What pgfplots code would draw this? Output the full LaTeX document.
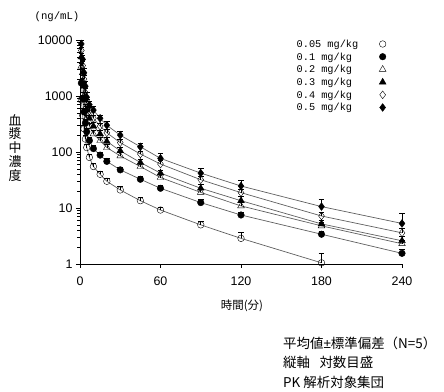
\documentclass[border=0pt]{standalone}
\usepackage{fontspec}
\setmainfont{Liberation Sans}
\newfontfamily\jp{Noto Sans CJK JP}
\newfontfamily\mono{Liberation Mono}
\usepackage{pgfplots}
\usepackage{pgfplotstable}
\pgfplotsset{compat=1.18}
\definecolor{lg}{RGB}{95,95,95}

\pgfplotstableread{
t v e
1 850 150
2 450 80
3 260 40
4 170 25
5 120 18
7 80 12
10 55 8
15 40 6
20 30 4
30 21 3
45 13.5 2
60 9.2 1.3
90 5.0 0.7
120 2.87 0.75
180 1.05 0.5
}\dA
\pgfplotstableread{
t v e
1 1700 300
2 900 150
3 520 80
4 330 50
5 230 35
7 160 22
10 115 15
15 88 12
20 68 9
30 48 6
45 32.6 4
60 22.5 3
90 12.5 1.8
120 7.5 1
180 3.4 0.5
240 1.55 0.25
}\dB
\pgfplotstableread{
t v e
1 3400 500
2 1800 300
3 1000 170
4 600 100
5 400 60
7 290 40
10 210 30
15 160 22
20 120 16
30 85 12
45 55 8
60 35 5
90 19 3
120 10.9 1.8
180 4.8 0.8
240 2.3 0.4
}\dC
\pgfplotstableread{
t v e
1 5000 800
2 2600 450
3 1500 250
4 850 150
5 560 90
7 400 60
10 290 45
15 210 30
20 155 25
30 105 15
45 65 9
60 42 6
90 22.5 3.5
120 13.5 2.5
180 5.2 0.9
240 2.6 0.5
}\dD
\pgfplotstableread{
t v e
1 6500 1000
2 3500 600
3 2000 350
4 1150 200
5 750 120
7 540 80
10 400 60
15 290 40
20 220 30
30 147 20
45 92 12
60 61 9
90 32 5
120 18.8 3
180 7.2 1.2
240 3.6 0.8
}\dE
\pgfplotstableread{
t v e
1 8500 1500
2 4500 800
3 2600 500
4 1500 300
5 950 200
7 700 120
10 560 90
15 400 60
20 300 50
30 200 35
45 124 18
60 77 18
90 42 9
120 24.7 7
180 10.6 3.8
240 5.3 2.7
}\dF

\pgfplotsset{
  mk/.style={only marks, mark size=3.3bp, mark options={draw=black, line width=0.6bp},
    error bars/y dir=plus, error bars/y explicit,
    error bars/error bar style={black, line width=0.6bp},
    error bars/error mark options={rotate=90, mark size=2.8bp, black, line width=0.6bp}},
  ln/.style={forget plot, mark=none, color=lg, line width=0.7bp},
}

\begin{document}
\begin{tikzpicture}
\useasboundingbox (-80bp,-128bp) rectangle (364bp,264bp);
\begin{axis}[
  at={(0,0)}, anchor=south west,
  scale only axis, width=322bp, height=224bp,
  xmin=0, xmax=240, ymin=1, ymax=10000, ymode=log,
  axis x line*=bottom, axis y line*=left,
  xtick={0,60,120,180,240},
  ytick={1,10,100,1000,10000}, yticklabels={1,10,100,1000,10000},
  tick align=outside, major tick length=4bp, minor tick length=2.5bp,
  tick style={black, line width=0.6bp},
  axis line style={black, line width=0.8bp},
  ticklabel style={font=\fontsize{12.5}{14}\selectfont},
  xticklabel style={yshift=-5bp},
  /pgf/number format/assume math mode=true,
  clip=false,
  legend plot pos=right,
  legend image code/.code={\draw[#1] plot coordinates {(0bp,0bp)};},
  legend style={at={(0.673,1.0105)}, anchor=north west, draw=none, fill=none,
    inner sep=0pt, outer sep=0pt, row sep=0pt, column sep=21bp,
    cells={anchor=west},
    nodes={inner sep=0pt, font=\mono\fontsize{10.3}{12}\selectfont, text height=9.7bp, text depth=3bp}},
]
\addplot[ln] table[x=t,y=v]{\dA};
\addplot[ln] table[x=t,y=v]{\dB};
\addplot[ln] table[x=t,y=v]{\dC};
\addplot[ln] table[x=t,y=v]{\dD};
\addplot[ln] table[x=t,y=v]{\dE};
\addplot[ln] table[x=t,y=v]{\dF};
\addplot[mk, mark=o, mark options={fill=white}] table[x=t,y=v,y error=e]{\dA};
\addlegendentry{0.05 mg/kg}
\addplot[mk, mark=*, mark options={fill=black}] table[x=t,y=v,y error=e]{\dB};
\addlegendentry{0.1 mg/kg}
\addplot[mk, mark=triangle, mark size=3.9bp, mark options={fill=white}] table[x=t,y=v,y error=e]{\dC};
\addlegendentry{0.2 mg/kg}
\addplot[mk, mark=triangle*, mark size=3.9bp, mark options={fill=black}] table[x=t,y=v,y error=e]{\dD};
\addlegendentry{0.3 mg/kg}
\addplot[mk, mark=diamond, mark size=3.9bp, mark options={fill=white}] table[x=t,y=v,y error=e]{\dE};
\addlegendentry{0.4 mg/kg}
\addplot[mk, mark=diamond*, mark size=3.9bp, mark options={fill=black}] table[x=t,y=v,y error=e]{\dF};
\addlegendentry{0.5 mg/kg}
\end{axis}
\node[font=\mono\fontsize{10.7}{12}\selectfont] at (-23bp,247bp) {(ng/mL)};
\node[font=\jp\fontsize{13}{14}\selectfont, align=center, inner sep=0pt] at (-65bp,116bp) {血\\漿\\中\\濃\\度};
\node[font=\jp\fontsize{11.5}{13}\selectfont] at (162bp,-42bp) {時間(分)};
\node[font=\jp\fontsize{13.5}{19.5}\selectfont, align=left, anchor=north west, inner sep=0pt] at (203bp,-72.5bp) {平均値{\rmfamily ±}標準偏差（N=5）\\縦軸\hspace{0.7em}対数目盛\\PK 解析対象集団};
\end{tikzpicture}
\end{document}
